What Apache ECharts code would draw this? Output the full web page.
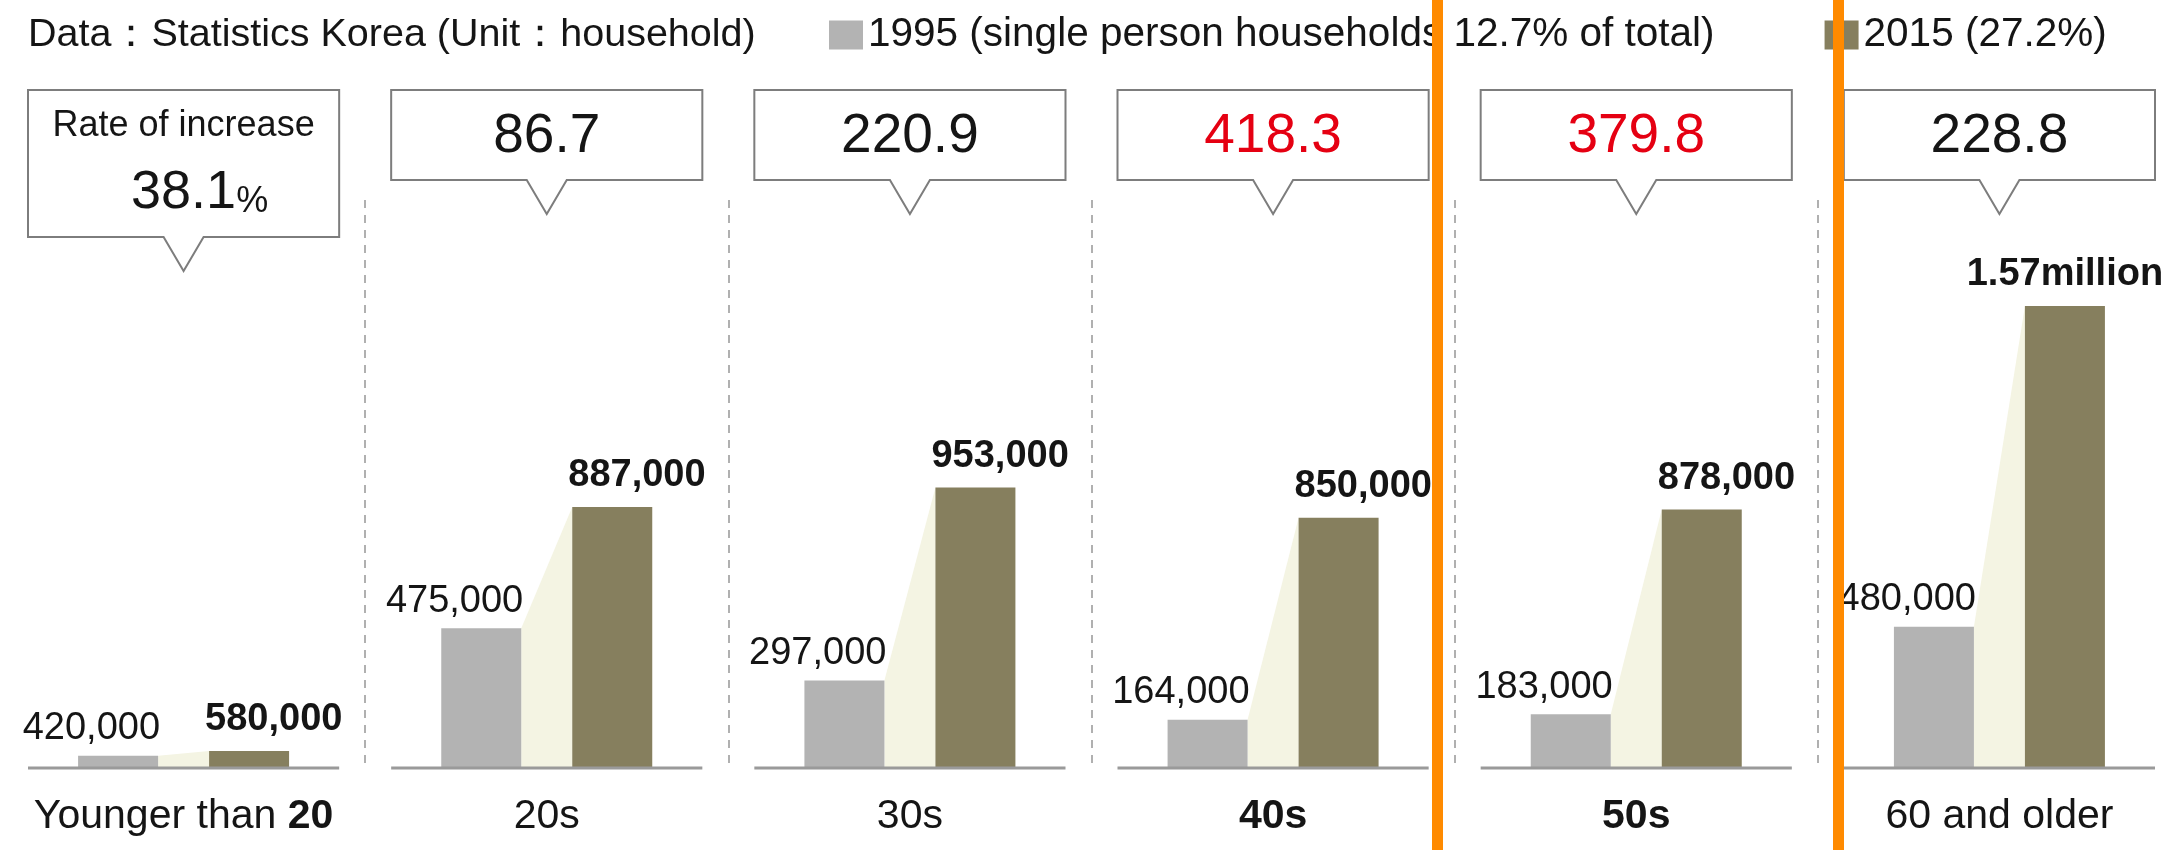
<!DOCTYPE html>
<html>
<head>
<meta charset="utf-8">
<title>Single person households by age</title>
<script src="https://cdn.jsdelivr.net/npm/echarts@6/dist/echarts.min.js"></script>
<style>
  html, body { margin: 0; padding: 0; background: #fff; }
  #chart { width: 2167px; height: 850px; }
</style>
</head>
<body>
<div id="chart"></div>
<script>
// age groups
const categories = ['Younger than 20', '20s', '30s', '40s', '50s', '60 and older']
// single person households, bar heights as drawn
// (the first group is drawn at 42,000 / 58,000 although its labels read 420,000 / 580,000)
const values1995 = [42000, 475000, 297000, 164000, 183000, 480000]
const values2015 = [58000, 887000, 953000, 850000, 878000, 1570000]
// text printed above the bars
const labels1995 = ['420,000', '475,000', '297,000', '164,000', '183,000', '480,000']
const labels2015 = ['580,000', '887,000', '953,000', '850,000', '878,000', '1.57million']
// rate of increase 1995 -> 2015 (%)
const rates = [38.1, 86.7, 220.9, 418.3, 379.8, 228.8]
// groups shown in red / bold
const highlighted = ['40s', '50s']

const name1995 = '1995 (single person households 12.7% of total)'
const name2015 = '2015 (27.2%)'

const FONT = "'Liberation Sans', Arial, sans-serif"
const BAR_W = 80
const GAP = 51
const GRAY = '#b3b3b3'
const OLIVE = '#867f5e'
const RED = '#e50012'
const TEXT = '#151515'

const chart = echarts.init(document.getElementById('chart'))

const option = {
  animation: false,
  backgroundColor: '#fff',
  textStyle: { fontFamily: FONT },
  title: {
    text: 'Data：Statistics Korea (Unit：household)',
    left: 28,
    top: 12,
    padding: 0,
    textStyle: { fontSize: 39.5, fontWeight: 'normal', color: TEXT, fontFamily: FONT, lineHeight: 46 },
  },
  legend: {
    data: [name1995, name2015],
    left: 829,
    top: 12,
    padding: 0,
    icon: 'rect',
    itemWidth: 34,
    itemHeight: 29,
    itemGap: 110,
    textStyle: { fontSize: 40.5, color: TEXT, fontFamily: FONT, lineHeight: 46 },
  },
  // six panels, each one category band wide; the grid runs a little past the right edge
  grid: { left: 2, width: 2179, top: 200, bottom: 82, outerBoundsMode: 'none' },
  xAxis: {
    type: 'category',
    data: categories,
    axisLine: { show: false },
    axisTick: { show: false },
    splitLine: {
      show: true,
      interval: (i) => i > 0,
      lineStyle: { color: '#b0b0b0', type: [8, 7], width: 2 },
    },
    axisLabel: {
      interval: 0,
      margin: 25,
      fontSize: 41,
      color: TEXT,
      lineHeight: 48,
      fontFamily: FONT,
      formatter: (v) => {
        if (highlighted.includes(v)) return '{b|' + v + '}'
        const m = v.match(/^(.*?)(\d+)$/)
        if (m) return '{n|' + m[1] + '}{b|' + m[2] + '}'
        return '{n|' + v + '}'
      },
      rich: {
        n: { fontSize: 41, color: TEXT, fontFamily: FONT, lineHeight: 48 },
        b: { fontSize: 41, color: TEXT, fontFamily: FONT, lineHeight: 48, fontWeight: 'bold' },
      },
    },
  },
  yAxis: { type: 'value', min: 0, max: 1930000, show: false },
  series: [
    {
      name: name1995,
      type: 'bar',
      data: values1995,
      barWidth: BAR_W,
      barGap: (GAP / BAR_W) * 100 + '%',
      itemStyle: { color: GRAY },
      z: 2,
      label: {
        show: true,
        position: 'top',
        distance: 8,
        align: 'right',
        offset: [BAR_W / 2 + 2, 0],
        fontSize: 38,
        color: TEXT,
        fontFamily: FONT,
        formatter: (p) => labels1995[p.dataIndex],
      },
    },
    {
      name: name2015,
      type: 'bar',
      // the last label sits centred over its bar, the others start at the bar's left edge
      data: values2015.map((v, i) =>
        i === values2015.length - 1 ? { value: v, label: { align: 'center', offset: [0, 0] } } : v
      ),
      barWidth: BAR_W,
      barGap: (GAP / BAR_W) * 100 + '%',
      itemStyle: { color: OLIVE },
      z: 2,
      label: {
        show: true,
        position: 'top',
        distance: 12,
        align: 'left',
        offset: [-BAR_W / 2 - 4, 0],
        fontSize: 38,
        fontWeight: 'bold',
        color: TEXT,
        fontFamily: FONT,
        formatter: (p) => labels2015[p.dataIndex],
      },
    },
    {
      // pale band joining the tops of the two bars
      name: 'connector',
      type: 'custom',
      z: 1,
      data: categories.map((c, i) => [i, values1995[i], values2015[i]]),
      encode: { x: 0, y: [1, 2] },
      renderItem: (params, api) => {
        const i = api.value(0)
        const p95 = api.coord([i, api.value(1)])
        const p15 = api.coord([i, api.value(2)])
        const base = api.coord([i, 0])
        const h = GAP / 2
        return {
          type: 'polygon',
          shape: {
            points: [
              [p95[0] - h, p95[1]],
              [p95[0] + h, p15[1]],
              [p95[0] + h, base[1]],
              [p95[0] - h, base[1]],
            ],
          },
          style: { fill: '#f4f4e3' },
        }
      },
    },
    {
      // base line of each panel and the rate callout above it
      name: 'panels',
      type: 'custom',
      z: 3,
      data: rates.map((r, i) => [i, r]),
      encode: { x: 0, y: 1 },
      renderItem: (params, api) => {
        const i = api.value(0)
        const rate = api.value(1)
        const base = api.coord([i, 0])
        const cx = base[0]
        const half = api.size([1, 0])[0] / 2 - 26
        const first = i === 0
        const top = 90
        const bottom = first ? 237 : 180
        const tip = bottom + 34
        const pw = 20
        const color = highlighted.includes(categories[i]) ? RED : TEXT
        const children = [
          {
            type: 'line',
            shape: { x1: cx - half, y1: base[1], x2: cx + half, y2: base[1] },
            style: { stroke: '#9a9a9a', lineWidth: 3 },
          },
          {
            type: 'polygon',
            shape: {
              points: [
                [cx - half, top], [cx + half, top], [cx + half, bottom],
                [cx + pw, bottom], [cx, tip], [cx - pw, bottom], [cx - half, bottom],
              ],
            },
            style: { fill: '#fff', stroke: '#7d7d7d', lineWidth: 2 },
          },
        ]
        if (first) {
          children.push({
            type: 'text',
            x: cx,
            y: 126,
            style: { text: 'Rate of increase', fontSize: 36, fontFamily: FONT, fill: TEXT, align: 'center', verticalAlign: 'middle' },
          })
          children.push({
            type: 'text',
            x: cx + 16,
            y: 190,
            style: {
              text: '{n|' + rate.toFixed(1) + '}{p|%}',
              align: 'center',
              verticalAlign: 'middle',
              rich: {
                n: { fontSize: 54, fontFamily: FONT, fill: TEXT, lineHeight: 60, verticalAlign: 'bottom' },
                p: { fontSize: 36, fontFamily: FONT, fill: TEXT, lineHeight: 47, verticalAlign: 'bottom' },
              },
            },
          })
        } else {
          children.push({
            type: 'text',
            x: cx,
            y: 137,
            style: { text: rate.toFixed(1), fontSize: 55, fontFamily: FONT, fill: color, align: 'center', verticalAlign: 'middle' },
          })
        }
        return { type: 'group', children }
      },
    },
  ],
  // orange marker strips laid over the picture
  graphic: [
    { type: 'rect', z: 100, shape: { x: 1432, y: 0, width: 11, height: 850 }, style: { fill: '#ff8a00' } },
    { type: 'rect', z: 100, shape: { x: 1833, y: 0, width: 11, height: 850 }, style: { fill: '#ff8a00' } },
  ],
}

chart.setOption(option)
window.addEventListener('resize', () => chart.resize())
</script>
</body>
</html>
